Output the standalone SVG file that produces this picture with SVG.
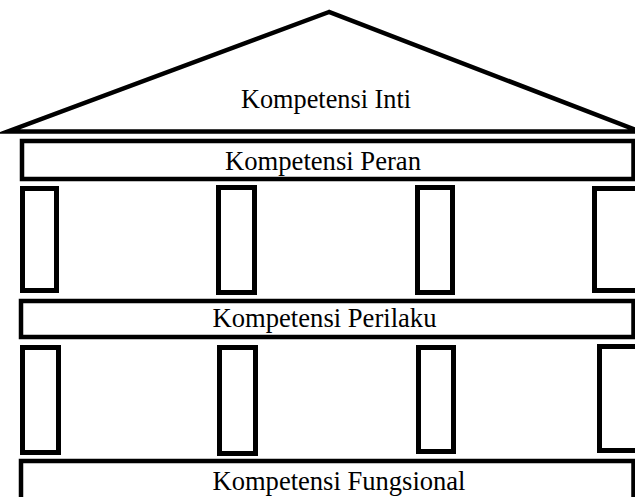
<svg xmlns="http://www.w3.org/2000/svg" width="635" height="497" viewBox="0 0 635 497">
<style>
.s{fill:#fff;stroke:#000;stroke-width:4.5}
.c{fill:#fff;stroke:#000;stroke-width:5}
.t{font-family:"Liberation Serif","Times New Roman",serif;font-size:27px;fill:#000}
</style>
<rect width="635" height="497" fill="#fff"/>
<g id="inti">
<polygon class="s" points="329,12 8,131.5 640,131.5" stroke-linejoin="miter" stroke-miterlimit="20"/>
<text class="t" x="241" y="108" textLength="170" lengthAdjust="spacingAndGlyphs">Kompetensi Inti</text>
</g>
<g id="peran">
<rect class="s" x="22" y="141" width="611.5" height="38"/>
<text class="t" x="225" y="170" textLength="196" lengthAdjust="spacingAndGlyphs">Kompetensi Peran</text>
</g>
<g id="tiang-atas">
<rect class="c" x="22.5" y="188.5" width="34" height="102"/>
<rect class="c" x="218.5" y="187.5" width="36" height="105"/>
<rect class="c" x="417.5" y="187.5" width="35" height="105"/>
<rect class="c" x="594.5" y="188.5" width="50" height="102"/>
</g>
<g id="perilaku">
<rect class="s" x="21" y="301" width="612.5" height="36"/>
<text class="t" x="212.5" y="327" textLength="224" lengthAdjust="spacingAndGlyphs">Kompetensi Perilaku</text>
</g>
<g id="tiang-bawah">
<rect class="c" x="22.5" y="347.5" width="36" height="105"/>
<rect class="c" x="219.5" y="347.5" width="36" height="106"/>
<rect class="c" x="418.5" y="347.5" width="35" height="104"/>
<rect class="c" x="599.5" y="346.5" width="50" height="104"/>
</g>
<g id="fungsional">
<rect class="s" x="21" y="461" width="612.5" height="50"/>
<text class="t" x="212.5" y="490" textLength="253" lengthAdjust="spacingAndGlyphs">Kompetensi Fungsional</text>
</g>
</svg>
